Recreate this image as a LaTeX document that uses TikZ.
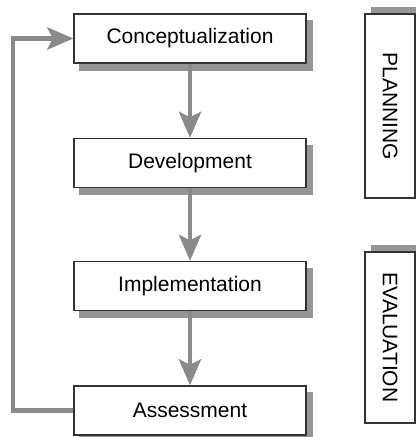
\documentclass[tikz,border=0pt]{standalone}
\usepackage{fontspec}
\setmainfont{Liberation Sans}
\usetikzlibrary{arrows.meta,positioning,calc,backgrounds}
\definecolor{flowgray}{HTML}{8A8A8C}
\definecolor{shadegray}{HTML}{959597}

\begin{document}
\begin{tikzpicture}[x=0.75pt, y=-0.75pt,
  font=\fontsize{15.75}{19}\selectfont,
  stage/.style={draw=black!80, line width=0.9pt, fill=white, minimum width=174pt, minimum height=36.75pt, inner sep=0pt},
  phase/.style={stage, rotate=-90, minimum height=37.5pt},
  flow/.style={draw=flowgray, line width=3.5pt, -{Stealth[length=19.5pt, width=16.5pt, inset=4pt]}}]
\useasboundingbox (0,0) rectangle (416,437);
% stages
\node[stage] (C) at (190,38.5) {Conceptualization};
\node[stage] (D) at (190,163) {Development};
\node[stage] (I) at (190,286) {Implementation};
\node[stage] (A) at (190,410.5) {Assessment};
% phases
\node[phase, minimum width=138pt] (P) at (390,106) {PLANNING};
\node[phase, minimum width=128.25pt] (E) at (390,337.5) {EVALUATION};
\begin{scope}[on background layer]
\foreach \n in {C,D,I,A} \fill[shadegray] ($(\n.south west)+(6,7)$) rectangle ($(\n.north east)+(6,7)$);
\foreach \n in {P,E} \fill[shadegray] ($(\n.south west)+(7,-6)$) rectangle ($(\n.north east)+(7,-6)$);
\end{scope}
% arrows
\draw[flow] (C) -- (D);
\draw[flow] (D) -- (I);
\draw[flow] (I) -- (A);
\draw[flow] (A.west) -- ++(-60.5,0) |- (C.west);
\end{tikzpicture}
\end{document}
